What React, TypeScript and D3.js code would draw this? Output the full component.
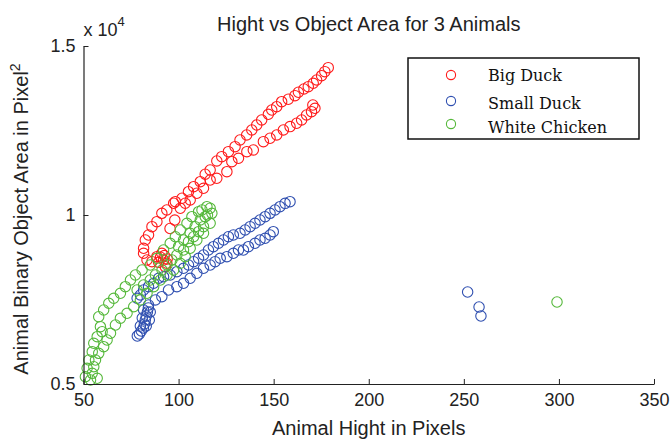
import React, { useEffect, useRef } from 'react'
import * as d3 from 'd3'

// Big Duck
const bigDuckHeight = [
  178.7, 176.9, 175.2, 172.6, 170.8, 168.2, 165.9, 163, 161.2, 157.7, 154.2, 151.6, 149, 147.2, 143.7,
  141.1, 138.5, 135.8, 132.3, 129.7, 126.2, 122.7, 120.1, 116.6, 114, 111.4, 107.9, 105.2, 101.8, 98.3,
  171.7, 170.6, 169.9, 167.3, 164.7, 162.1, 158.6, 155.1, 151.6, 148.1, 144.6, 139.3, 135.9, 131.5, 128,
  125.4, 120.1, 116.6, 113.1, 109.6, 106.1,
  103.5, 100.9, 97.4, 93.8, 91.2, 88.6, 86, 84.2, 82.5, 81.6, 81.6, 83.4, 86, 88.6, 91.2, 92.1, 93, 93.8,
  95.5, 98, 89.5, 90.5, 92.5, 94
]
const bigDuckArea = [
  14360, 14241, 14122, 13995, 13897, 13797, 13729, 13631, 13531, 13424, 13353, 13205, 13107, 12980, 12812,
  12664, 12516, 12368, 12220, 12022, 11874, 11726, 11599, 11332, 11205, 10986, 10838, 10690, 10495, 10394,
  13157, 13255, 13058, 12960, 12812, 12714, 12615, 12516, 12368, 12270, 12170, 11924, 11874, 11678, 11578,
  11282, 11086, 11036, 10790, 10643, 10445,
  10347, 10199, 10347, 10149, 10050, 9803, 9655, 9409, 9261, 9015, 8867, 8669, 8620, 8767, 8867, 8669, 8472, 8571,
  9600, 9850, 8600, 8750, 8800, 8700
]

// Small Duck
const smallDuckHeight = [
  158.6, 156, 153.3, 150.7, 148.1, 145.5, 142.8, 140.2, 137.6, 135, 132.3, 128.8, 126.2, 123.6, 121,
  118.3, 115.7, 113.1, 110.5, 107.9, 105.2, 102.6, 99.1, 95.6, 92.1, 89.5, 86.9, 84.2, 81.6, 79.9, 78.2,
  149.8, 148.1, 145.5, 142.8, 140.2, 136.7, 134.1, 131.5, 128.8, 125.4, 121.9, 119.2, 116.6, 113.1, 109.6,
  106.1, 102.6, 99.1, 94.7, 91.2, 87.8, 84.2, 81.6,
  84.1, 83.6, 83, 82.5, 82, 81.5, 80.4, 79.4, 78.3, 85.1, 84.6, 83, 80.9, 79.9,
  252, 258, 259
]
const smallDuckArea = [
  10394, 10345, 10246, 10149, 10050, 9950, 9853, 9755, 9655, 9557, 9459, 9409, 9358, 9261, 9163,
  9063, 8965, 8817, 8719, 8620, 8521, 8423, 8323, 8225, 8175, 8127, 7980, 7879, 7781, 7634, 7536,
  9507, 9409, 9311, 9261, 9163, 9063, 8965, 8965, 8867, 8767, 8719, 8620, 8521, 8423, 8275,
  8127, 7980, 7879, 7781, 7584, 7486, 7338, 7190,
  7249, 7130, 7012, 6894, 6775, 6657, 6568, 6480, 6420, 7130, 6894, 6716, 6953, 6716,
  7722, 7278, 7012
]

// White Chicken
const chickenHeight = [
  114.9, 110.5, 107, 104.4, 100.9, 98.3, 95.6, 92.1, 88.6, 85.1, 80.8, 77.3, 74.7, 72, 69.4, 65.9, 63.3,
  60.6, 58, 58.9, 59.8, 57.2, 55.4, 54.6, 52.8, 51.9, 51, 53.7, 57.2,
  117.5, 116.6, 113.1, 109.6, 106.1, 103.5, 100.9, 97.4, 93.9, 90.4, 86.9, 83.4, 79.9, 76.4, 72.9, 69.4,
  66.8, 64.2, 62.4, 60.6, 58, 56.3, 55.4, 54.6,
  114, 111.4, 108.7, 106.1, 102.6, 100, 112.3, 116.6, 115.2, 113.1, 110.5, 107.9, 105.2, 102.6, 99.1, 96.5,
  93.9, 91.3, 87.8, 85.1, 81.6, 78.2,
  299
]
const chickenArea = [
  10246, 10098, 9950, 9755, 9557, 9358, 9163, 8965, 8719, 8521, 8373, 8225, 8077, 7879, 7684, 7536, 7388,
  7190, 6991, 6696, 6548, 6400, 6204, 5956, 5710, 5464, 5216, 5118, 5169,
  10050, 9755, 9459, 9261, 9015, 8767, 8571, 8373, 8225, 8077, 7879, 7684, 7486, 7287, 7092, 6944,
  6746, 6500, 6302, 6104, 5908, 5710, 5512, 5316,
  9950, 9853, 9655, 9459, 9261, 9063, 10149, 10199, 10000, 9655, 9507, 9358, 9210, 8965, 8817, 8669,
  8521, 8373, 8225, 8077, 7930, 7781,
  7426
]

const seriesNames = ['Big Duck', 'Small Duck', 'White Chicken']
const seriesColors = ['#ff1a1a', '#2f4fb0', '#55b83a']
const xTicks = [50, 100, 150, 200, 250, 300, 350]
const yTicks = [5000, 10000, 15000]

const W = 670, H = 439
const left = 83.5, right = 654, top = 46, bottom = 384

export default function App() {
  const ref = useRef<SVGSVGElement>(null)
  useEffect(() => {
    const el = ref.current
    if (!el) return
    const svg = d3.select(el)
    svg.selectAll('*').remove()

    const x = d3.scaleLinear().domain([50, 350]).range([left, right])
    const y = d3.scaleLinear().domain([5000, 15000]).range([bottom, top])

    const series = [
      { xs: bigDuckHeight, ys: bigDuckArea },
      { xs: smallDuckHeight, ys: smallDuckArea },
      { xs: chickenHeight, ys: chickenArea }
    ]

    series.forEach((s, i) => {
      const pts = s.xs.map((v, j) => [v, s.ys[j]])
      svg.append('g').selectAll('circle').data(pts).enter().append('circle')
        .attr('cx', d => x(d[0])).attr('cy', d => y(d[1])).attr('r', 5.2)
        .attr('fill', 'none').attr('stroke', seriesColors[i]).attr('stroke-width', 1.1)
    })

    const gx = svg.append('g').attr('transform', `translate(0,${bottom})`)
      .call(d3.axisBottom(x).tickValues(xTicks).tickSizeInner(-5).tickSizeOuter(0).tickPadding(8).tickFormat(d3.format('d')))
    const gy = svg.append('g').attr('transform', `translate(${left},0)`)
      .call(d3.axisLeft(y).tickValues(yTicks).tickSizeInner(-5).tickSizeOuter(0).tickPadding(8).tickFormat(d => String(+d / 10000)))
    ;[gx, gy].forEach(g => {
      g.select('.domain').attr('stroke', '#222').attr('stroke-width', 1.2)
      g.selectAll('.tick line').attr('stroke', '#222')
      g.selectAll('.tick text').attr('font-family', 'Liberation Sans, Arial, sans-serif')
        .attr('font-size', 18).attr('fill', '#222')
    })
    gx.selectAll('.tick text').attr('dy', '0.8em')

    const sans = 'Liberation Sans, Arial, sans-serif'
    svg.append('text').attr('x', (left + right) / 2).attr('y', 31).attr('text-anchor', 'middle')
      .attr('font-family', sans).attr('font-size', 20).attr('fill', '#222')
      .text('Hight vs Object Area for 3 Animals')
    svg.append('text').attr('x', (left + right) / 2).attr('y', 435).attr('text-anchor', 'middle')
      .attr('font-family', sans).attr('font-size', 20).attr('fill', '#222')
      .text('Animal Hight in Pixels')
    const yl = svg.append('text').attr('transform', `translate(28,${(top + bottom) / 2 + 4}) rotate(-90)`)
      .attr('text-anchor', 'middle').attr('font-family', sans).attr('font-size', 20).attr('fill', '#222')
    yl.append('tspan').text('Animal Binary Object Area in Pixel')
    yl.append('tspan').attr('dy', -8).attr('font-size', 14).text('2')

    const ex = svg.append('text').attr('x', left).attr('y', 36)
      .attr('font-family', sans).attr('font-size', 18).attr('fill', '#222')
    ex.append('tspan').text('x 10')
    ex.append('tspan').attr('dy', -10).attr('font-size', 13).text('4')

    // legend
    const lg = svg.append('g')
    lg.append('rect').attr('x', 408).attr('y', 58).attr('width', 231).attr('height', 81)
      .attr('fill', 'white').attr('stroke', '#111').attr('stroke-width', 1.5)
    const rowY = [75, 101, 124]
    const textY = [81, 109, 133]
    seriesNames.forEach((name, i) => {
      lg.append('circle').attr('cx', 451).attr('cy', rowY[i]).attr('r', 4.6)
        .attr('fill', 'none').attr('stroke', seriesColors[i]).attr('stroke-width', 1.1)
      lg.append('text').attr('x', 488).attr('y', textY[i])
        .attr('font-family', 'DejaVu Serif, serif').attr('font-size', 16).attr('fill', '#111')
        .text(name)
    })
  }, [])

  return (
    <svg ref={ref} width={W} height={H} viewBox={`0 0 ${W} ${H}`}
      style={{ position: 'absolute', left: 0, top: 0, background: 'white' }} />
  )
}
